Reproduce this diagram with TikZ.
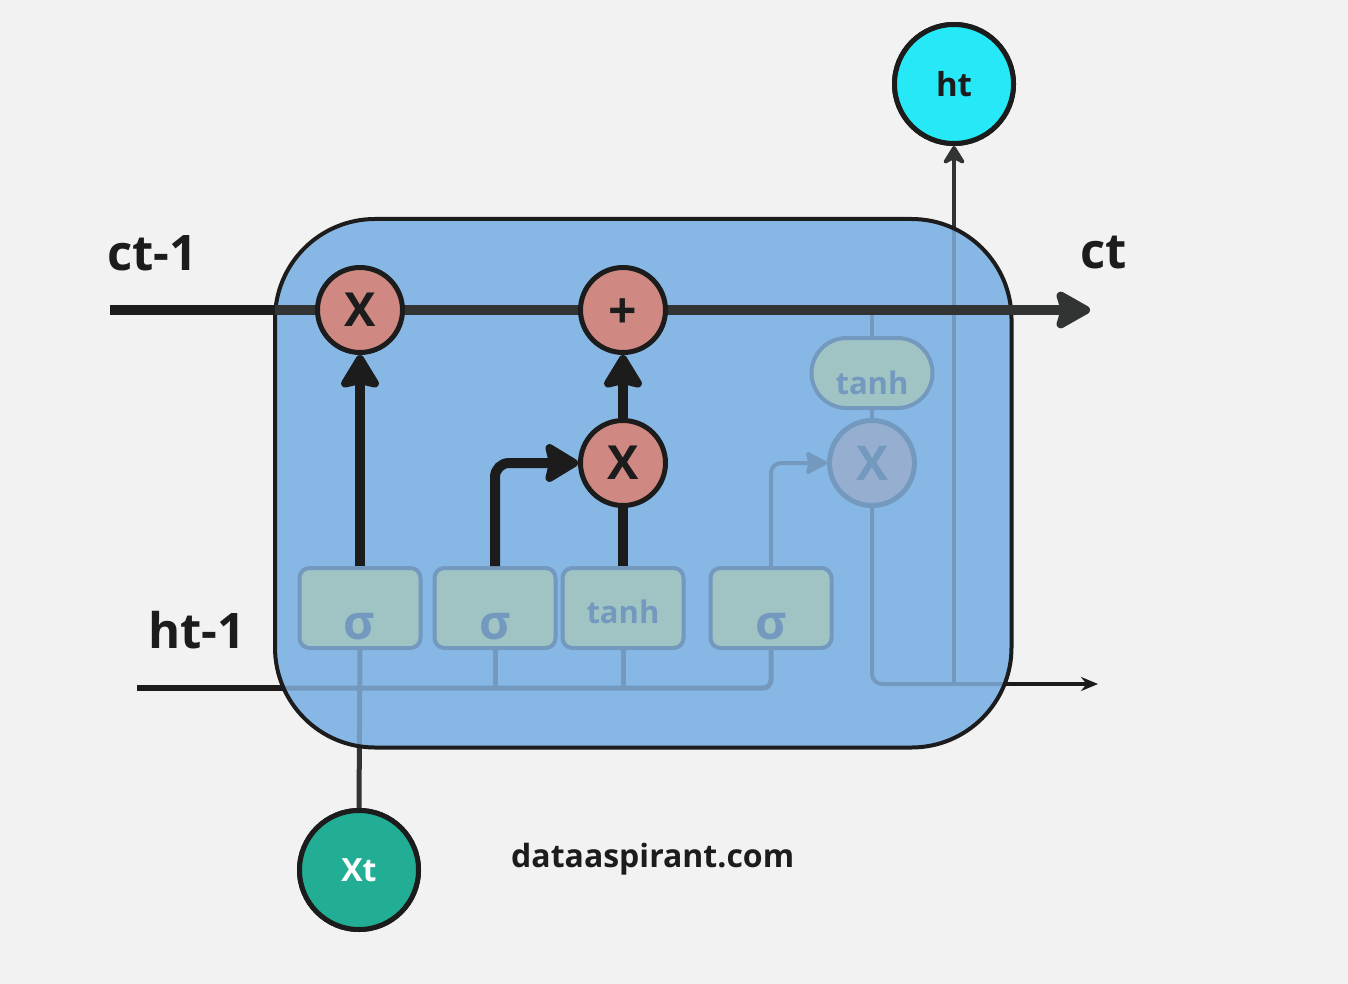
\documentclass[tikz,border=0pt]{standalone}
\usepackage{fontspec}
\setmainfont{Open Sans}
\usetikzlibrary{arrows.meta}
\definecolor{bgc}{HTML}{F2F2F2}
\definecolor{cellc}{HTML}{87B8E5}
\definecolor{inkc}{HTML}{1C1C1C}
\definecolor{linec}{HTML}{323434}
\definecolor{fadec}{HTML}{7399BF}
\definecolor{gatec}{HTML}{A0C4C4}
\definecolor{salmonc}{HTML}{CF8982}
\definecolor{fadecirc}{HTML}{96AECF}
\definecolor{cyanc}{HTML}{27E8F7}
\definecolor{tealc}{HTML}{22AE94}
\newcommand\fsz[1]{\fontsize{#1}{#1}\selectfont\bfseries}
\tikzset{
  opgate/.style={circle, draw=inkc, fill=salmonc, line width=5pt, minimum size=85pt, inner sep=0pt, text=inkc, font=\fsz{47}},
  gatebox/.style={rectangle, rounded corners=10pt, draw=fadec, fill=gatec, line width=4pt, minimum width=121pt, minimum height=80pt, inner sep=0pt},
  gatetxt/.style={anchor=base, inner sep=0pt, text=fadec},
  darkline/.style={draw=linec, line width=5pt},
  fadeline/.style={draw=fadec, line width=5pt},
  bigtip/.style={-{Stealth[length=38pt,width=45pt,inset=5pt,round]}},
  blackarrow/.style={draw=inkc, line width=10pt},
  lbl/.style={anchor=base west, inner sep=0pt, text=inkc},
}
\begin{document}
\begin{tikzpicture}[x=1pt,y=-1pt]
\useasboundingbox (0,0) rectangle (1348,984);
\fill[bgc] (0,0) rectangle (1348,984);

% coordinates
\coordinate (cin) at (110,310);
\coordinate (cout) at (1090,310);
\coordinate (hin) at (137,688);
\coordinate (hout) at (1098,684);

% nodes
\node[gatebox] (s1) at (360,608) {};
\node[gatebox] (s2) at (495,608) {};
\node[gatebox] (t1) at (623,608) {};
\node[gatebox] (s3) at (771,608) {};
\node[rectangle, rounded corners=35pt, draw=fadec, fill=gatec, line width=4pt, minimum width=121pt, minimum height=70pt, inner sep=0pt] (t2) at (872,373) {};
\node[circle, draw=fadec, fill=fadecirc, line width=5pt, minimum size=85pt, inner sep=0pt] (x3) at (872,463) {};
\node[opgate] (x1) at (360,310) {};
\node[opgate] (pl) at (623,310) {};
\node[opgate] (x2) at (623,463) {};
\node[circle, draw=inkc, fill=cyanc, line width=5pt, minimum size=119pt, inner sep=0pt] (ht) at (954,84) {};
\node[circle, draw=inkc, fill=tealc, line width=5pt, minimum size=119pt, inner sep=0pt] (xt) at (359,870) {};

% dark lines under the cell
\draw[draw=inkc, line width=6pt] (hin) -- (hin -| s3.south);
\draw[darkline] (s1.south) -- (xt.north);
\draw[draw=linec, line width=4.5pt, -{Stealth[length=22pt,width=27pt,round]}] (ht.south |- hout) -- (ht.south);
\draw[draw=inkc, line width=3.5pt, -{Stealth[length=17pt,width=14pt]}] (x3.south) |- (hout);

% cell
\path[fill=cellc, rounded corners=100pt] (275,219) rectangle (1011.5,747.5);
\begin{scope}
\clip[rounded corners=100pt] (275,219) rectangle (1011.5,747.5);
\draw[fadeline, rounded corners=8pt] (hin) -| (s3.south);
\draw[fadeline] (s2.south) -- (s2.south |- hin);
\draw[fadeline] (t1.south) -- (t1.south |- hin);
\draw[fadeline] (s1.south) -- (xt.north);
\draw[fadeline, line width=4pt, rounded corners=10pt] (x3.south) |- (hout);
\draw[fadeline, line width=4pt] (ht.south |- hout) -- (ht.south);
\draw[fadeline, line width=4pt] (t2.north) -- (t2.north |- cin);
\draw[fadeline, line width=4pt] (t2.south) -- (x3.north);
\draw[fadeline, line width=4pt, rounded corners=10pt, -{Stealth[length=24pt,width=25pt,inset=3pt,round]}] (s3.north) |- (x3.west);
\end{scope}
\draw[inkc, line width=4pt, rounded corners=100pt] (275,219) rectangle (1011.5,747.5);

% redraw faded gates on top
\node[gatebox] at (s1) {};
\node[gatebox] at (s2) {};
\node[gatebox] at (t1) {};
\node[gatebox] at (s3) {};
\node[rectangle, rounded corners=35pt, draw=fadec, fill=gatec, line width=4pt, minimum width=121pt, minimum height=70pt, inner sep=0pt] at (t2) {};
\node[circle, draw=fadec, fill=fadecirc, line width=5pt, minimum size=85pt, inner sep=0pt, text=fadec, font=\fsz{48}] at (x3) {X};

\node[gatetxt, font=\fsz{48}] (ls1) at (359,639) {σ};
\node[gatetxt, font=\fsz{48}] (ls2) at (495,639) {σ};
\node[gatetxt, font=\fsz{31}] (lt1) at (623,623) {tanh};
\node[gatetxt, font=\fsz{48}] (ls3) at (771,639) {σ};
\node[gatetxt, font=\fsz{31}] (lt2) at (872,394) {tanh};

% cell state line
\draw[draw=inkc, line width=10pt] (cin) -- (275,310);
\draw[draw=linec, line width=10pt, -{Stealth[length=40pt,width=44pt,inset=6pt,round]}] (275,310) -- (cout);

% black arrows
\draw[blackarrow, bigtip] (s1.north) -- (x1.south);
\draw[blackarrow, bigtip] (x2.north) -- (pl.south);
\draw[blackarrow] (t1.north) -- (x2.south);
\draw[blackarrow, bigtip, rounded corners=14pt] (s2.north) |- (x2.west);

% op gates on top
\node[opgate] at (x1) {X};
\node[opgate] at (pl) {};
\node[inner sep=0pt, text=inkc, font=\fsz{50}] (plt) at (623,314) {+};
\node[opgate] at (x2) {X};
\node[circle, draw=inkc, fill=cyanc, line width=5pt, minimum size=119pt, inner sep=0pt, text=inkc, font=\fsz{33}] at (ht) {ht};
\node[circle, draw=inkc, fill=tealc, line width=5pt, minimum size=119pt, inner sep=0pt, text=white, font=\fsz{32}] at (xt) {Xt};

% labels
\node[lbl, font=\fsz{49}] (lc0) at (107,270) {ct-1};
\node[lbl, font=\fsz{49}] (lc1) at (1080,269) {ct};
\node[lbl, font=\fsz{49}] (lh0) at (148,648) {ht-1};
\node[lbl, font=\fsz{32}] (lsite) at (511,867) {dataaspirant.com};
\end{tikzpicture}
\end{document}
